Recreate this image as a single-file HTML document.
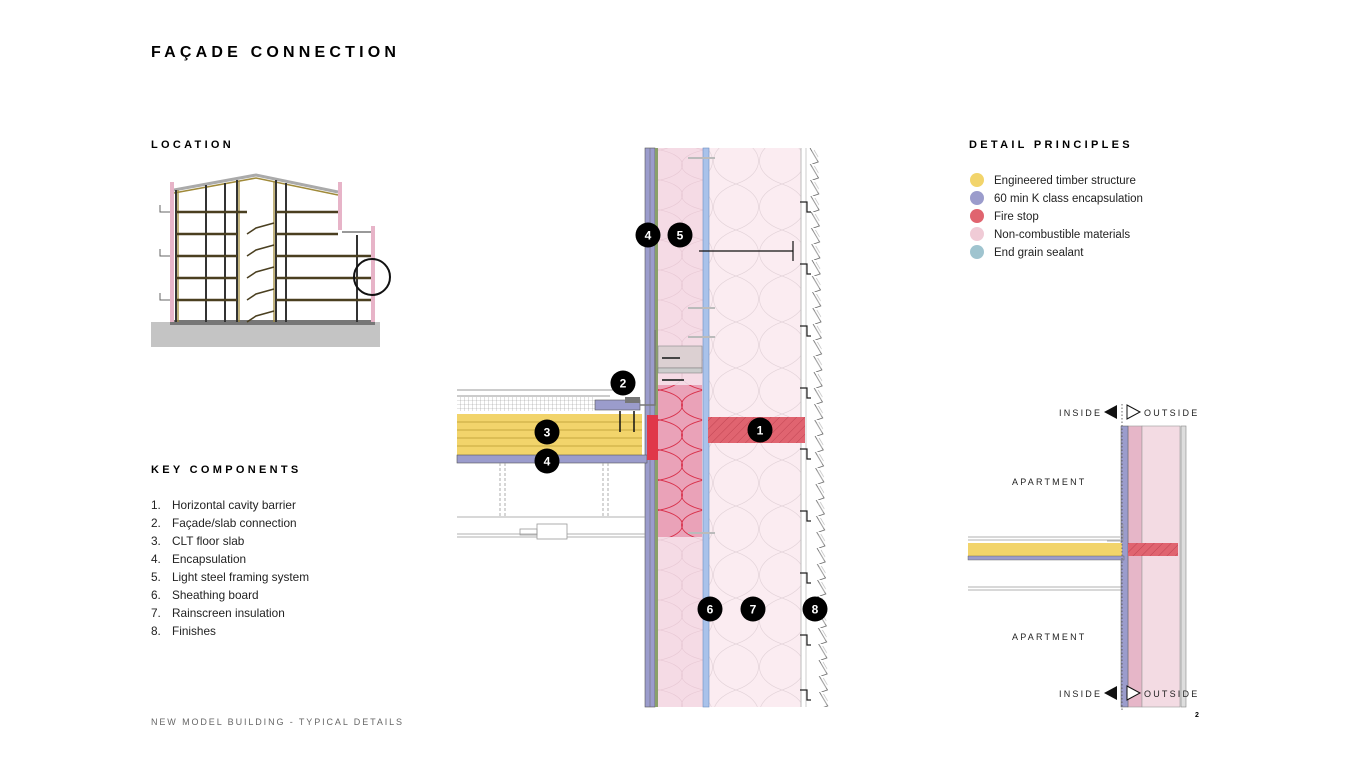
<!DOCTYPE html>
<html><head><meta charset="utf-8"><style>
html,body{margin:0;padding:0;background:#fff}
svg{display:block}
text{font-family:"Liberation Sans",sans-serif}
</style></head><body>
<svg width="1350" height="759" viewBox="0 0 1350 759" xmlns="http://www.w3.org/2000/svg">
<defs>
<pattern id="hatch" width="6" height="6" patternUnits="userSpaceOnUse" patternTransform="rotate(45)"><rect width="6" height="6" fill="#e06470"/><line x1="0" y1="0" x2="0" y2="6" stroke="#c04452" stroke-width="1"/></pattern>
<pattern id="grid" width="4" height="4" patternUnits="userSpaceOnUse"><rect width="4" height="4" fill="#fff"/><path d="M0 0H4M0 0V4" stroke="#999" stroke-width="0.6"/></pattern>
<pattern id="waves" width="46" height="46" patternUnits="userSpaceOnUse"><path d="M0 0 C30 10 30 36 0 46 M46 0 C16 10 16 36 46 46" fill="none" stroke="#e3d3d9" stroke-width="0.7"/></pattern>
<pattern id="waves2" width="44" height="30" patternUnits="userSpaceOnUse"><path d="M0 0 C30 6 30 24 0 30 M44 0 C14 6 14 24 44 30" fill="none" stroke="#e6c6d2" stroke-width="0.6"/></pattern>
<pattern id="wavesR" width="44" height="30" patternUnits="userSpaceOnUse"><rect width="44" height="30" fill="#eaa2b8"/><path d="M0 0 C30 6 30 24 0 30 M44 0 C14 6 14 24 44 30" fill="none" stroke="#d8304a" stroke-width="0.9"/></pattern>
<pattern id="clad" width="20" height="16" patternUnits="userSpaceOnUse"><path d="M2 0 L10 14 L4 16" fill="none" stroke="#666" stroke-width="0.8"/><path d="M4 3 L9 12 M6 2 L10 9" stroke="#aaa" stroke-width="0.5"/></pattern>
</defs>

<text x="151" y="57" font-size="16" font-weight="bold" letter-spacing="4.2">FAÇADE CONNECTION</text>
<text x="151" y="148" font-size="11" font-weight="bold" letter-spacing="3.3">LOCATION</text>
<text x="969" y="148" font-size="11" font-weight="bold" letter-spacing="3.3">DETAIL PRINCIPLES</text>
<text x="151" y="473" font-size="11" font-weight="bold" letter-spacing="3.3">KEY COMPONENTS</text>

<g font-size="11.5" fill="#222">
<circle cx="977" cy="180" r="7" fill="#f2d46b"/><text x="994" y="184">Engineered timber structure</text>
<circle cx="977" cy="198" r="7" fill="#9b9ccc"/><text x="994" y="202">60 min K class encapsulation</text>
<circle cx="977" cy="216" r="7" fill="#e0646f"/><text x="994" y="220">Fire stop</text>
<circle cx="977" cy="234" r="7" fill="#f0cbd6"/><text x="994" y="238">Non-combustible materials</text>
<circle cx="977" cy="252" r="7" fill="#9fc4cf"/><text x="994" y="256">End grain sealant</text>
</g>

<g font-size="11.8" fill="#222">
<text x="151" y="509">1.</text><text x="172" y="509">Horizontal cavity barrier</text>
<text x="151" y="527">2.</text><text x="172" y="527">Façade/slab connection</text>
<text x="151" y="545">3.</text><text x="172" y="545">CLT floor slab</text>
<text x="151" y="563">4.</text><text x="172" y="563">Encapsulation</text>
<text x="151" y="581">5.</text><text x="172" y="581">Light steel framing system</text>
<text x="151" y="599">6.</text><text x="172" y="599">Sheathing board</text>
<text x="151" y="617">7.</text><text x="172" y="617">Rainscreen insulation</text>
<text x="151" y="635">8.</text><text x="172" y="635">Finishes</text>
</g>
<text x="151" y="725" font-size="9" letter-spacing="1.9" fill="#666">NEW MODEL BUILDING - TYPICAL DETAILS</text>
<text x="1195" y="717" font-size="7" font-weight="bold">2</text>

<g>
<rect x="151" y="322" width="229" height="25" fill="#c4c4c4"/>
<rect x="170" y="320" width="205" height="5" fill="#777"/>
<polyline points="174,190 256,175 338,192" fill="none" stroke="#aaa" stroke-width="3"/>
<polyline points="174,193 256,178 338,195" fill="none" stroke="#a08a3a" stroke-width="1.5"/>
<rect x="170" y="182" width="4" height="140" fill="#e7b4c8"/>
<rect x="338" y="182" width="4" height="48" fill="#e7b4c8"/>
<rect x="371" y="226" width="4" height="96" fill="#e7b4c8"/>
<line x1="342" y1="232" x2="371" y2="232" stroke="#999" stroke-width="2"/>
<g stroke="#333" stroke-width="2">
<line x1="176" y1="190" x2="176" y2="322"/><line x1="206" y1="185" x2="206" y2="322"/><line x1="225" y1="183" x2="225" y2="322"/><line x1="237" y1="180" x2="237" y2="322"/>
<line x1="276" y1="180" x2="276" y2="322"/><line x1="286" y1="183" x2="286" y2="322"/><line x1="357" y1="235" x2="357" y2="322"/>
</g>
<g stroke="#a08a3a" stroke-width="1.3"><line x1="178" y1="190" x2="178" y2="322"/><line x1="239" y1="181" x2="239" y2="322"/><line x1="274" y1="181" x2="274" y2="322"/></g>
<g stroke="#4a3f20" stroke-width="2.5">
<line x1="176" y1="212" x2="247" y2="212"/><line x1="276" y1="212" x2="338" y2="212"/>
<line x1="176" y1="234" x2="237" y2="234"/><line x1="276" y1="234" x2="338" y2="234"/>
<line x1="176" y1="256" x2="237" y2="256"/><line x1="276" y1="256" x2="371" y2="256"/>
<line x1="176" y1="278" x2="237" y2="278"/><line x1="276" y1="278" x2="371" y2="278"/>
<line x1="176" y1="300" x2="237" y2="300"/><line x1="276" y1="300" x2="371" y2="300"/>
</g>
<g stroke="#4a3f20" stroke-width="1.5" fill="none">
<polyline points="247,234 256,228 274,223"/><polyline points="247,256 256,250 274,245"/><polyline points="247,278 256,272 274,267"/><polyline points="247,300 256,294 274,289"/><polyline points="247,322 256,316 274,311"/>
</g>
<g stroke="#666" stroke-width="1" fill="none"><polyline points="160,205 160,212 170,212"/><polyline points="160,249 160,256 170,256"/><polyline points="160,293 160,300 170,300"/></g>
<circle cx="372" cy="277" r="18" fill="none" stroke="#111" stroke-width="2"/>
</g>

<g>
<rect x="658" y="148" width="45" height="559" fill="#f5dbe5"/>
<rect x="658" y="148" width="45" height="559" fill="url(#waves2)"/>
<rect x="709" y="148" width="92" height="559" fill="#fbecf1"/>
<rect x="709" y="148" width="92" height="559" fill="url(#waves)"/>
<line x1="801" y1="148" x2="801" y2="707" stroke="#bbb" stroke-width="1"/>
<line x1="806" y1="148" x2="806" y2="707" stroke="#ccc" stroke-width="1"/>
<rect x="645" y="148" width="10" height="559" fill="#9b9ccc" stroke="#555" stroke-width="0.6"/>
<line x1="650" y1="148" x2="650" y2="707" stroke="#666" stroke-width="0.5"/>
<rect x="655" y="148" width="3" height="559" fill="#8aa06a"/>
<rect x="703" y="148" width="6" height="559" fill="#a9c2ea" stroke="#6f8fc0" stroke-width="0.6"/>
<rect x="658" y="385" width="44" height="152" fill="url(#wavesR)"/>
<rect x="658" y="346" width="44" height="22" fill="#dcd0d2" stroke="#888" stroke-width="0.6"/>
<rect x="658" y="368" width="44" height="5" fill="#ccc" stroke="#777" stroke-width="0.5"/>
<rect x="708" y="417" width="97" height="26" fill="url(#hatch)"/>
<g transform="translate(808,148) skewX(1)">
<rect x="0" y="0" width="16" height="559" fill="url(#clad)"/>
</g>
<g stroke="#222" stroke-width="1.2" fill="none">
<path d="M800 202h7v10h4"/><path d="M800 264h7v10h4"/><path d="M800 326h7v10h4"/><path d="M800 388h7v10h4"/><path d="M800 449h7v10h4"/><path d="M800 511h7v10h4"/><path d="M800 573h7v10h4"/><path d="M800 635h7v10h4"/><path d="M800 690h7v10h4"/>
</g>
<line x1="699" y1="251" x2="793" y2="251" stroke="#111" stroke-width="1.2"/>
<line x1="793" y1="241" x2="793" y2="261" stroke="#111" stroke-width="1.2"/>
<g stroke="#bbb" stroke-width="2"><line x1="688" y1="158" x2="715" y2="158"/><line x1="688" y1="308" x2="715" y2="308"/><line x1="688" y1="337" x2="715" y2="337"/><line x1="688" y1="533" x2="715" y2="533"/></g>
<line x1="457" y1="390" x2="615" y2="390" stroke="#999" stroke-width="1"/>
<line x1="457" y1="396" x2="610" y2="396" stroke="#999" stroke-width="1"/>
<rect x="457" y="397" width="138" height="14" fill="url(#grid)"/>
<rect x="595" y="400" width="45" height="10" fill="#9b9ccc" stroke="#555" stroke-width="0.6"/>
<rect x="625" y="397" width="15" height="6" fill="#777"/>
<rect x="457" y="414" width="185" height="41" fill="#f2d46b"/>
<g stroke="#b89a30" stroke-width="0.7"><line x1="457" y1="422" x2="642" y2="422"/><line x1="457" y1="430" x2="642" y2="430"/><line x1="457" y1="438" x2="642" y2="438"/><line x1="457" y1="446" x2="642" y2="446"/></g>
<rect x="457" y="455" width="190" height="8" fill="#9b9ccc" stroke="#555" stroke-width="0.6"/>
<rect x="647" y="415" width="11" height="45" fill="#e0374a"/>
<g stroke="#111" stroke-width="1.5"><line x1="620" y1="411" x2="620" y2="432"/><line x1="634" y1="411" x2="634" y2="432"/></g>
<path d="M655 330 V405 H640" fill="none" stroke="#777" stroke-width="1.5"/>
<g stroke="#444" stroke-width="2"><line x1="662" y1="358" x2="680" y2="358"/><line x1="662" y1="380" x2="684" y2="380"/></g>
<g stroke="#999" stroke-width="0.8" fill="none">
<line x1="500" y1="463" x2="500" y2="518" stroke-dasharray="3,2"/><line x1="505" y1="463" x2="505" y2="518" stroke-dasharray="3,2"/>
<line x1="603" y1="463" x2="603" y2="518" stroke-dasharray="3,2"/><line x1="608" y1="463" x2="608" y2="518" stroke-dasharray="3,2"/>
<line x1="457" y1="517" x2="645" y2="517"/><line x1="457" y1="534" x2="645" y2="534"/><line x1="457" y1="537" x2="645" y2="537"/>
<rect x="537" y="524" width="30" height="15" fill="#fff"/><rect x="520" y="529" width="17" height="6"/>
</g>
</g>

<g font-size="12" font-weight="bold" fill="#fff" text-anchor="middle">
<circle cx="648" cy="235" r="12.5" fill="#000"/><text x="648" y="239.5">4</text>
<circle cx="680" cy="235" r="12.5" fill="#000"/><text x="680" y="239.5">5</text>
<circle cx="623" cy="383" r="12.5" fill="#000"/><text x="623" y="387.5">2</text>
<circle cx="547" cy="432" r="12.5" fill="#000"/><text x="547" y="436.5">3</text>
<circle cx="547" cy="461" r="12.5" fill="#000"/><text x="547" y="465.5">4</text>
<circle cx="760" cy="430" r="12.5" fill="#000"/><text x="760" y="434.5">1</text>
<circle cx="710" cy="609" r="12.5" fill="#000"/><text x="710" y="613.5">6</text>
<circle cx="753" cy="609" r="12.5" fill="#000"/><text x="753" y="613.5">7</text>
<circle cx="815" cy="609" r="12.5" fill="#000"/><text x="815" y="613.5">8</text>
</g>

<g>
<rect x="1128" y="426" width="14" height="281" fill="#e6b6c8" stroke="#999" stroke-width="0.6"/>
<rect x="1142" y="426" width="38" height="281" fill="#f3dbe3" stroke="#999" stroke-width="0.6"/>
<rect x="1181" y="426" width="5" height="281" fill="#ddd" stroke="#888" stroke-width="0.6"/>
<rect x="1121" y="426" width="7" height="281" fill="#9b9ccc" stroke="#555" stroke-width="0.5"/>
<rect x="1128" y="543" width="50" height="13" fill="url(#hatch)"/>
<rect x="968" y="543" width="154" height="13" fill="#f2d46b"/>
<rect x="968" y="556" width="156" height="4" fill="#9b9ccc" stroke="#555" stroke-width="0.4"/>
<g stroke="#999" stroke-width="0.8" fill="none"><line x1="968" y1="537" x2="1120" y2="537"/><line x1="968" y1="540" x2="1120" y2="540"/><line x1="968" y1="587" x2="1121" y2="587"/><line x1="968" y1="590" x2="1121" y2="590"/><path d="M1107 541 H1123 V524"/></g>
<line x1="1122" y1="404" x2="1122" y2="712" stroke="#666" stroke-width="1" stroke-dasharray="1.5,2"/>
<g font-size="9" letter-spacing="2.2" fill="#222">
<text x="1012" y="485">APARTMENT</text><text x="1012" y="640">APARTMENT</text>
<text x="1059" y="416">INSIDE</text><text x="1144" y="416">OUTSIDE</text>
<text x="1059" y="697">INSIDE</text><text x="1144" y="697">OUTSIDE</text>
</g>
<polygon points="1104,412 1117,405 1117,419" fill="#111"/>
<polygon points="1140,412 1127,405 1127,419" fill="#fff" stroke="#111" stroke-width="1"/>
<polygon points="1104,693 1117,686 1117,700" fill="#111"/>
<polygon points="1140,693 1127,686 1127,700" fill="#fff" stroke="#111" stroke-width="1"/>
</g>
</svg>
</body></html>
